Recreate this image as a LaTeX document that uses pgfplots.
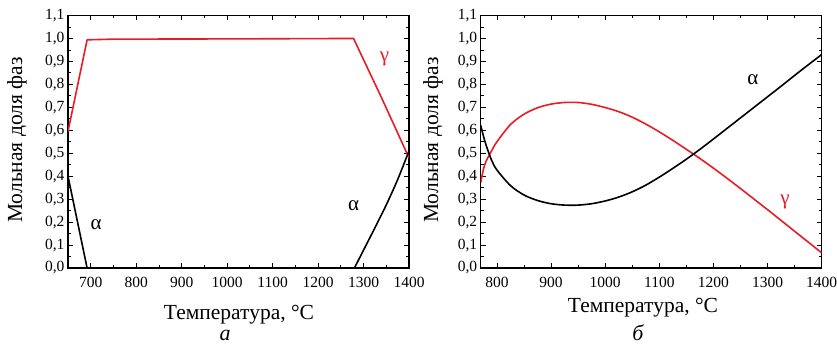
\documentclass[border=0pt]{standalone}
\usepackage{fontspec}
\setmainfont{Liberation Serif}
\usepackage{pgfplots}
\pgfplotsset{compat=1.18}
\definecolor{myred}{RGB}{232,28,36}
\pgfplotsset{
  myax/.style={
    scale only axis, width=341pt, height=252.5pt, anchor=south west,
    ymin=0, ymax=1.1, xmax=1400,
    ytick={0,0.1,0.2,0.3,0.4,0.5,0.6,0.7,0.8,0.9,1.0,1.1},
    minor y tick num=1, minor x tick num=1,
    axis line style={line width=1.2pt},
    tick style={black, line width=0.8pt},
    major tick length=5pt, minor tick length=3pt,
    tick align=inside,
    /pgf/number format/assume math mode=true,
    yticklabel style={/pgf/number format/fixed, /pgf/number format/fixed zerofill, /pgf/number format/precision=1, /pgf/number format/use comma},
    xticklabel style={/pgf/number format/1000 sep={}, /tikz/yshift=-6pt},
    tick label style={font=\fontsize{15.5}{15.5}\selectfont},
  },
  gam/.style={myred, line width=1.6pt, line join=round, mark=none},
  alp/.style={black, line width=1.6pt, line join=round, mark=none},
}
\begin{document}
\begin{tikzpicture}[x=1pt,y=1pt]
\path[use as bounding box] (0,0) rectangle (837,345);
% ---------- panel a ----------
\begin{axis}[myax, at={(68pt,77pt)}, xmin=650, xtick={700,800,...,1400}]
\addplot[gam] coordinates {(650,0.595) (692,0.994) (750,0.997) (1000,0.998) (1150,0.999) (1278,1.0) (1340,0.74) (1400,0.48)};
\addplot[alp] coordinates {(650,0.40) (692,0.0) (1280,0.0)};
\addplot[alp, smooth] coordinates {(1280,0.0) (1300,0.078) (1325,0.175) (1350,0.275) (1375,0.385) (1400,0.51)};
\node[font=\fontsize{21}{21}\selectfont] at (axis cs:712,0.19) {α};
\node[font=\fontsize{21}{21}\selectfont] at (axis cs:1278,0.27) {α};
\node[font=\fontsize{21}{21}\selectfont, text=myred] at (axis cs:1346,0.91) {γ};
\end{axis}
% ---------- panel b ----------
\begin{axis}[myax, at={(480.7pt,77pt)}, xmin=770, xtick={800,900,...,1400}]
\addplot[gam, smooth] coordinates {(770,0.372) (775,0.43) (780,0.465) (790,0.51) (800,0.55) (825,0.625) (850,0.670) (875,0.698) (900,0.714) (925,0.721) (950,0.721) (975,0.713) (1000,0.699) (1025,0.681) (1050,0.657) (1075,0.627) (1100,0.593) (1125,0.556) (1150,0.517) (1175,0.477) (1200,0.435) (1225,0.391) (1250,0.346) (1275,0.300) (1300,0.254) (1325,0.207) (1350,0.160) (1375,0.113) (1400,0.066)};
\addplot[alp, smooth] coordinates {(770,0.622) (775,0.575) (780,0.535) (790,0.47) (800,0.427) (825,0.359) (850,0.318) (875,0.294) (900,0.280) (925,0.274) (950,0.274) (975,0.280) (1000,0.292) (1025,0.309) (1050,0.332) (1075,0.361) (1100,0.396) (1125,0.434) (1150,0.474) (1175,0.517) (1200,0.562) (1225,0.608) (1250,0.654) (1275,0.700) (1300,0.746) (1325,0.792) (1350,0.839) (1375,0.885) (1400,0.930)};
\node[font=\fontsize{21}{21}\selectfont] at (axis cs:1273,0.82) {α};
\node[font=\fontsize{21}{21}\selectfont, text=myred] at (axis cs:1332,0.289) {γ};
\end{axis}
% ---------- labels ----------
\node[anchor=base, font=\fontsize{21.5}{22}\selectfont] at (239,25) {Температура, °C};
\node[anchor=base, font=\fontsize{21.5}{22}\selectfont] at (643,32.7) {Температура, °C};
\node[anchor=base, font=\itshape\fontsize{22}{22}\selectfont] at (225,5) {а};
\node[anchor=base, font=\itshape\fontsize{22}{22}\selectfont] at (638,5) {б};
\node[rotate=90, font=\fontsize{21.5}{22}\selectfont] at (17,205) {Мольная доля фаз};
\node[rotate=90, font=\fontsize{21.5}{22}\selectfont] at (433,205) {Мольная доля фаз};
\end{tikzpicture}
\end{document}
